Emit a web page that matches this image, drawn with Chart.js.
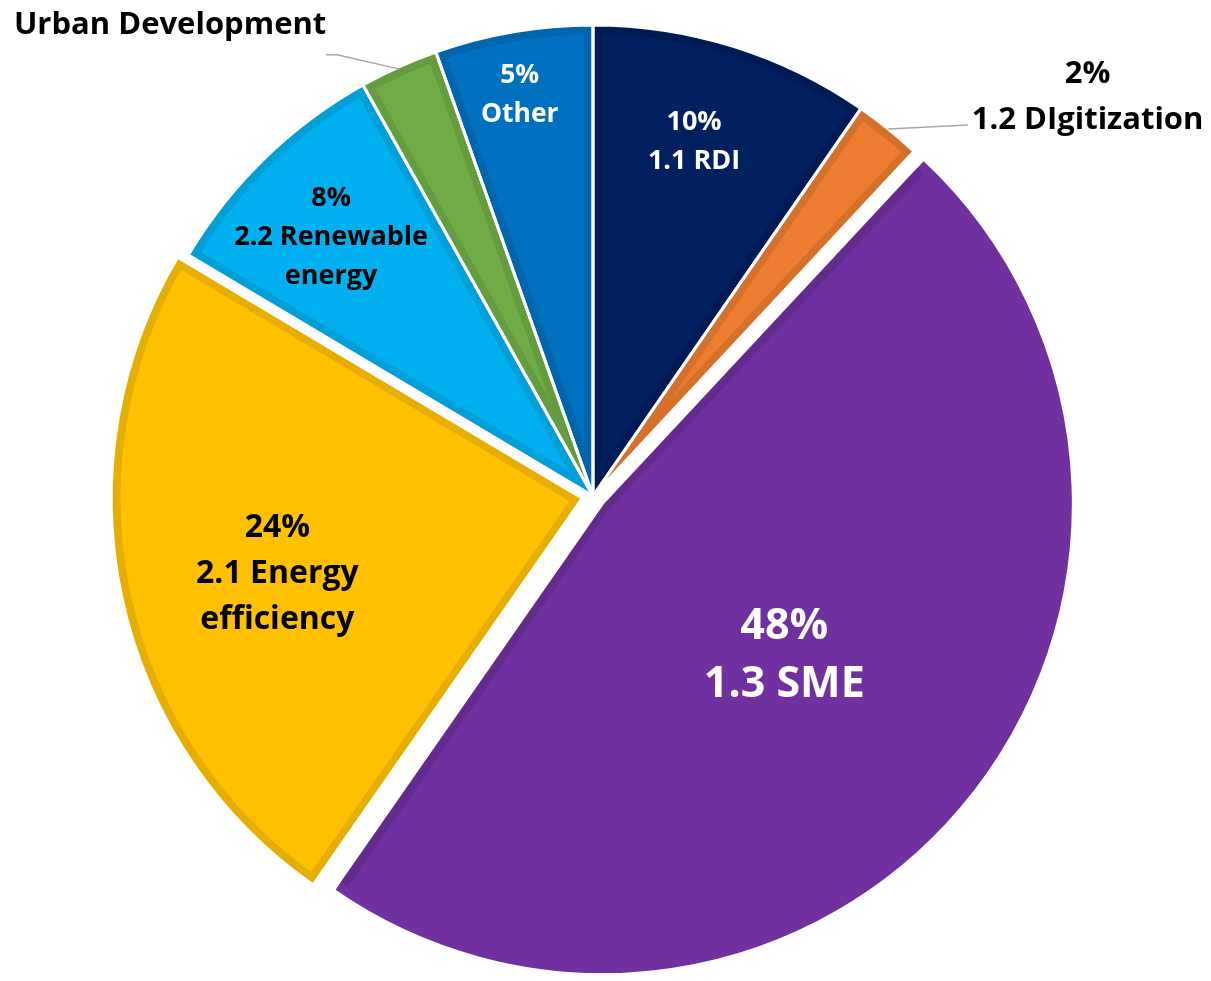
<!DOCTYPE html>
<html>
<head>
<meta charset="utf-8">
<title>Allocation by priority</title>
<script src="https://cdn.jsdelivr.net/npm/chart.js@4.4.1/dist/chart.umd.min.js"></script>
<style>
  html, body { margin: 0; padding: 0; background: #fff; }
</style>
</head>
<body>
<canvas id="pie" width="1211" height="981"></canvas>
<script>
// 各方向占比（%），从12点钟方向顺时针
const categories = ['1.1 RDI', '1.2 DIgitization', '1.3 SME', '2.1 Energy efficiency', '2.2 Renewable energy', 'Urban Development', 'Other'];
const shares = [9.6, 2.3, 47.6, 23.8, 8.3, 2.7, 5.4];
// 标签文字（按行）
const labelLines = [['1.1 RDI'], ['1.2 DIgitization'], ['1.3 SME'], ['2.1 Energy', 'efficiency'], ['2.2 Renewable', 'energy'], ['Urban Development'], ['Other']];
const showPct = [true, true, true, true, true, false, true];

const fillColors = ['#002060', '#ED7D31', '#7030A0', '#FFC000', '#00B0F0', '#70AD47', '#0070C0'];
const edgeColors = ['#001B53', '#D6712C', '#642B8F', '#E6AE00', '#009FD8', '#659C40', '#0065AD'];
// 分离距离（Chart.js 实际平移 offset/4）
const explode = [0, 0, 48, 44, 0, 0, 0];

// 标签样式与位置：r 为半径比例，t 为扇区内角度比例，dy 为文字基线微调
const labelStyle = [
  { r: 0.786, t: 0.457, size: 27, lh: 39, dy: 2, color: '#fff' },
  { r: 1.357, t: 1.93, size: 31, lh: 46, dy: 6, color: '#000', leader: [[1.0, 0.5], [1.12, 1.28]] },
  { r: 0.505, t: 0.498, size: 43, lh: 58, dy: 7, color: '#fff' },
  { r: 0.665, t: 0.488, size: 32, lh: 46, dy: 4, color: '#000' },
  { r: 0.787, t: 0.476, size: 27, lh: 39, dy: 4, color: '#000' },
  { r: 1.349, t: -1.28, size: 31, lh: 40, dy: 3, color: '#000', leader: [[0.995, 0.5], [1.083, -0.09]], tail: -11 },
  { r: 0.872, t: 0.473, size: 26.5, lh: 39, dy: 3, color: '#fff' }
];

const total = shares.reduce((a, b) => a + b, 0);
const FONT = '"Open Sans", "Noto Sans", sans-serif';

// 分离扇区时 Chart.js 会放大大扇区半径，这里抵消
const explodeFix = {
  id: 'explodeFix',
  afterDatasetsUpdate(chart) {
    chart.getDatasetMeta(0).data.forEach((arc, i) => {
      const fix = 1 - Math.sin(Math.min(Math.PI, arc.circumference));
      arc.outerRadius -= explode[i] / 4 * fix;
    });
  }
};

// 白色分隔线 + 标签
const sliceDecor = {
  id: 'sliceDecor',
  afterDatasetsDraw(chart) {
    const ctx = chart.ctx;
    const arcs = chart.getDatasetMeta(0).data;

    arcs.forEach((arc, i) => {
      const off = explode[i] / 4;
      const mid = (arc.startAngle + arc.endAngle) / 2;
      const fix = 1 - Math.sin(Math.min(Math.PI, arc.circumference));
      const cx = arc.x + Math.cos(mid) * off;
      const cy = arc.y + Math.sin(mid) * off;
      const r = arc.outerRadius + off * fix;
      ctx.save();
      ctx.strokeStyle = '#fff';
      ctx.lineWidth = 3;
      ctx.lineJoin = 'miter';
      ctx.beginPath();
      ctx.moveTo(cx, cy);
      ctx.arc(cx, cy, r, arc.startAngle, arc.endAngle);
      ctx.closePath();
      ctx.stroke();
      ctx.restore();
    });

    arcs.forEach((arc, i) => {
      const st = labelStyle[i];
      const off = explode[i] / 4;
      const mid = (arc.startAngle + arc.endAngle) / 2;
      const cx = arc.x + Math.cos(mid) * off;
      const cy = arc.y + Math.sin(mid) * off;
      const R = arc.outerRadius;
      const polar = (rr, t) => {
        const a = arc.startAngle + t * (arc.endAngle - arc.startAngle);
        return [cx + Math.cos(a) * rr * R, cy + Math.sin(a) * rr * R];
      };

      ctx.save();
      if (st.leader) {
        const pts = st.leader.map(p => polar(p[0], p[1]));
        if (st.tail) pts.push([pts[pts.length - 1][0] + st.tail, pts[pts.length - 1][1]]);
        ctx.strokeStyle = '#A6A6A6';
        ctx.lineWidth = 1.5;
        ctx.beginPath();
        pts.forEach((p, k) => k ? ctx.lineTo(p[0], p[1]) : ctx.moveTo(p[0], p[1]));
        ctx.stroke();
      }

      const lines = (showPct[i] ? [Math.round(shares[i] / total * 100) + '%'] : []).concat(labelLines[i]);
      const [lx, ly] = polar(st.r, st.t);
      ctx.fillStyle = st.color;
      ctx.font = `bold ${st.size}px ${FONT}`;
      ctx.textAlign = 'center';
      ctx.textBaseline = 'middle';
      lines.forEach((s, k) => {
        ctx.fillText(s, lx, ly + st.dy + (k - (lines.length - 1) / 2) * st.lh);
      });
      ctx.restore();
    });
  }
};

new Chart(document.getElementById('pie'), {
  type: 'pie',
  data: {
    labels: categories,
    datasets: [{
      data: shares,
      backgroundColor: fillColors,
      borderColor: edgeColors,
      borderWidth: 9,
      borderAlign: 'inner',
      borderJoinStyle: 'miter',
      offset: explode,
      spacing: 0,
      radius: 471
    }]
  },
  options: {
    responsive: false,
    animation: false,
    events: [],
    layout: { padding: { left: 0, right: 25, top: 11, bottom: 0 } },
    plugins: {
      legend: { display: false },
      tooltip: { enabled: false }
    }
  },
  plugins: [explodeFix, sliceDecor]
});
</script>
</body>
</html>
